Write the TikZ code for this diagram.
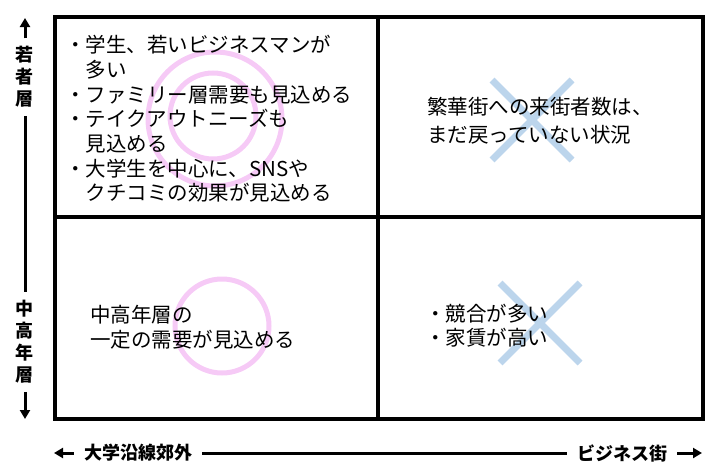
\documentclass[tikz,border=0pt]{standalone}
\usepackage{fontspec}
\setmainfont{Noto Sans CJK JP}
\usepackage{xcolor}
\usetikzlibrary{arrows.meta}
\definecolor{ringpink}{RGB}{246,202,246}
\definecolor{crossblue}{RGB}{188,213,236}

\begin{document}
\begin{tikzpicture}[x=1pt, y=-1pt,
  quadtxt/.style={anchor=west, align=left, inner sep=0pt, font=\fontsize{20.5}{24.7}\selectfont},
  axislbl/.style={font=\fontsize{18}{22}\selectfont\bfseries, align=center, inner xsep=10pt, inner ysep=8pt},
  axisline/.style={line width=3pt},
  axisarrow/.style={axisline, -{Triangle[length=9pt,width=10pt]}}]
  \useasboundingbox (0,0) rectangle (720,474);
  \draw[ringpink, line width=5pt] (215,119) circle (67pt) (213,116) circle (43pt) (222,326) circle (47pt);
  \foreach \cx/\cy in {532/120, 540/323}
    { \draw[crossblue, line width=7pt] (\cx-40,\cy-40) -- (\cx+40,\cy+40) (\cx-40,\cy+40) -- (\cx+40,\cy-40); }
  \draw[line width=3.2pt] (55,17) rectangle (703,419) (378,17) -- (378,419) (55,217) -- (703,217);

  \node[quadtxt] (youngtxt) at (65,119) {・学生、若いビジネスマンが\\\phantom{・}多い\\・ファミリー層需要も見込める\\・テイクアウトニーズも\\\phantom{・}見込める\\・大学生を中心に、SNSや\\\phantom{・}クチコミの効果が見込める};
  \node[quadtxt, font=\fontsize{20.5}{28}\selectfont] (citytxt) at (427,121) {繁華街への来街者数は、\\まだ戻っていない状況};
  \node[quadtxt, font=\fontsize{20.5}{25}\selectfont] (seniortxt) at (90,327) {中高年層の\\一定の需要が見込める};
  \node[quadtxt, font=\fontsize{20.5}{24}\selectfont] (costtxt) at (425,326) {・競合が多い\\・家賃が高い};

  \node[axislbl] (young) at (25,77) {若\\者\\層};
  \node[axislbl] (senior) at (25,342) {中\\高\\年\\層};
  \coordinate (ytop) at (25,18);
  \coordinate (ybot) at (25,419);
  \draw[axisline] (young) -- (senior);
  \draw[axisarrow] (young) -- (ytop);
  \draw[axisarrow] (senior) -- (ybot);

  \node[axislbl] (suburb) at (138,453) {大学沿線郊外};
  \node[axislbl] (bizst) at (622,453) {ビジネス街};
  \coordinate (xleft) at (54,453);
  \coordinate (xright) at (702,453);
  \draw[axisline] (suburb) -- (bizst);
  \draw[axisarrow] (suburb) -- (xleft);
  \draw[axisarrow] (bizst) -- (xright);
\end{tikzpicture}
\end{document}
